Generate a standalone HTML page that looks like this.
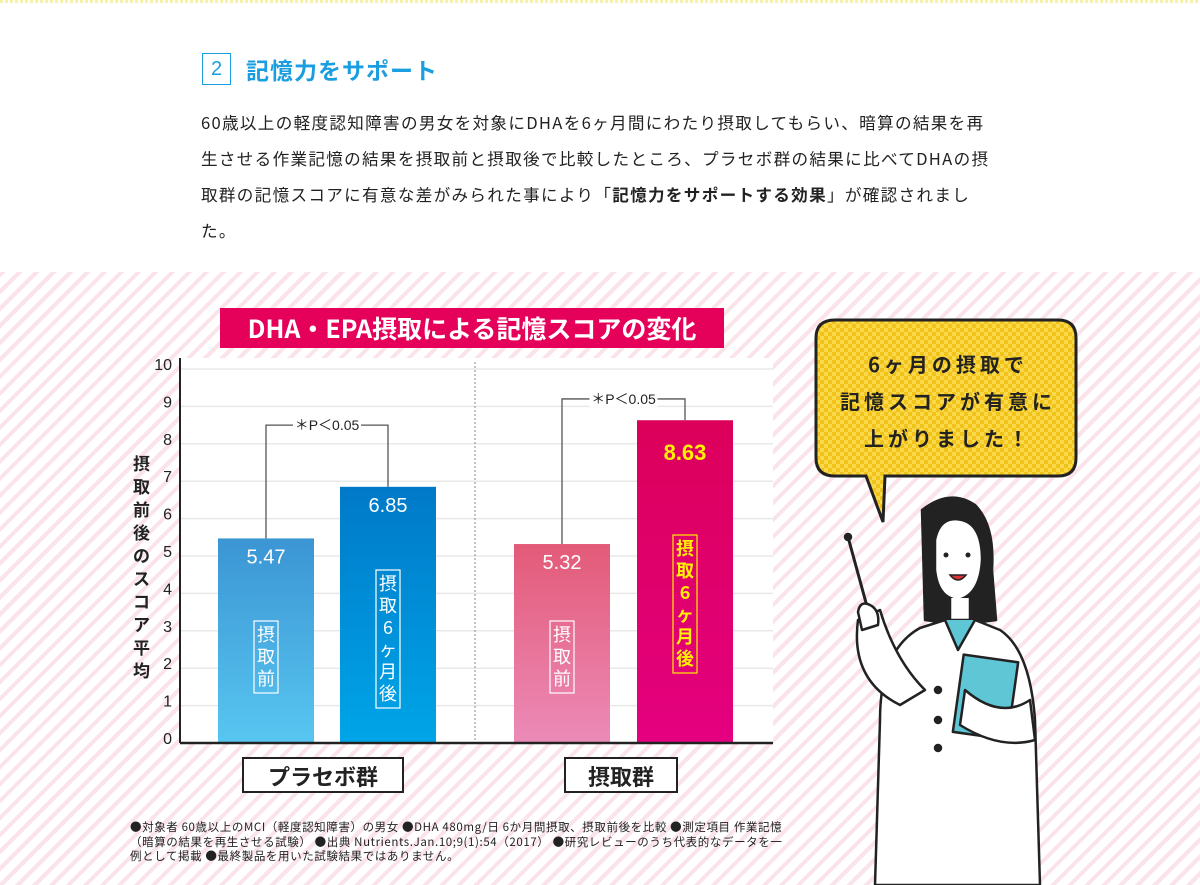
<!DOCTYPE html>
<html><head><meta charset="utf-8">
<style>
body{margin:0;width:1200px;height:885px;overflow:hidden;background:#fff;font-family:"Liberation Sans","Noto Sans CJK JP",sans-serif;position:relative}
.abs{position:absolute}
#bg{position:absolute;left:0;top:272px;width:1200px;height:613px;background:repeating-linear-gradient(135deg,#fbe3ea 0 4px,#fff 4px 12px)}
#topline{position:absolute;left:0;top:0;width:1200px;height:3px;background:repeating-linear-gradient(90deg,#f6f0a8 0 3px,#fff 3px 5px)}
.para{left:201px;width:880px;font-size:16.6px;letter-spacing:1.3px;line-height:36px;color:#222;font-family:"Noto Sans CJK JP",sans-serif}
</style></head><body>
<div id="topline"></div>
<div class="abs" style="left:202px;top:53px;width:27px;height:30px;border:1.5px solid #1a9ee0;color:#1a9ee0;font-size:20px;text-align:center;line-height:30px">2</div>
<div class="abs" style="left:246px;top:52px;font-size:23px;font-weight:bold;color:#1a9ee0;font-family:'Noto Sans CJK JP',sans-serif;letter-spacing:1px">記憶力をサポート</div>
<div class="abs para" style="top:104px">60歳以上の軽度認知障害の男女を対象にDHAを6ヶ月間にわたり摂取してもらい、暗算の結果を再<br>生させる作業記憶の結果を摂取前と摂取後で比較したところ、プラセボ群の結果に比べてDHAの摂<br>取群の記憶スコアに有意な差がみられた事により「<b>記憶力をサポートする効果</b>」が確認されまし<br>た。</div>
<div id="bg"></div>

<svg class="abs" style="left:0;top:0" width="1200" height="885" id="chart">
<rect x="220" y="308" width="504" height="40" fill="#e5005a"/>
<text x="472" y="338" text-anchor="middle" fill="#fff" font-size="25" font-weight="bold" font-family="'Noto Sans CJK JP',sans-serif">DHA・EPA摂取による記憶スコアの変化</text>
<rect x="180" y="358" width="593" height="385" fill="#fff"/>
<g id="grid"></g>
<defs>
<linearGradient id="g0" x1="0" y1="0" x2="0" y2="1"><stop offset="0" stop-color="#3b95d3"/><stop offset="1" stop-color="#58c6f1"/></linearGradient>
<linearGradient id="g1" x1="0" y1="0" x2="0" y2="1"><stop offset="0" stop-color="#0079c8"/><stop offset="1" stop-color="#00a5e8"/></linearGradient>
<linearGradient id="g2" x1="0" y1="0" x2="0" y2="1"><stop offset="0" stop-color="#e35a78"/><stop offset="1" stop-color="#ec8bb8"/></linearGradient>
<linearGradient id="g3" x1="0" y1="0" x2="0" y2="1"><stop offset="0" stop-color="#dc005a"/><stop offset="1" stop-color="#e4007f"/></linearGradient>
<pattern id="chk" width="8" height="8" patternUnits="userSpaceOnUse"><rect width="8" height="8" fill="#f9d949"/><rect width="4" height="4" fill="#f0c21a"/><rect x="4" y="4" width="4" height="4" fill="#f0c21a"/></pattern>
</defs>
<g id="bars"></g>
<line x1="475" y1="362" x2="475" y2="742" stroke="#888" stroke-dasharray="2,2"/>
<line x1="180" y1="358" x2="180" y2="743" stroke="#222" stroke-width="2"/>
<line x1="180" y1="743" x2="773" y2="743" stroke="#222" stroke-width="2.5"/>
<text font-size="17" font-weight="bold" fill="#222" font-family="'Noto Sans CJK JP',sans-serif">
<tspan x="133" y="470">摂</tspan><tspan x="133" y="493">取</tspan><tspan x="133" y="516">前</tspan><tspan x="133" y="539">後</tspan><tspan x="133" y="562">の</tspan><tspan x="133" y="585">ス</tspan><tspan x="133" y="608">コ</tspan><tspan x="133" y="631">ア</tspan><tspan x="133" y="654">平</tspan><tspan x="133" y="677">均</tspan></text>
<rect x="243" y="758" width="160" height="34" fill="#fff" stroke="#222" stroke-width="2"/>
<text x="323" y="785" text-anchor="middle" font-size="22" font-weight="bold" fill="#222" font-family="'Noto Sans CJK JP',sans-serif">プラセボ群</text>
<rect x="565" y="758" width="112" height="34" fill="#fff" stroke="#222" stroke-width="2"/>
<text x="621" y="785" text-anchor="middle" font-size="22" font-weight="bold" fill="#222" font-family="'Noto Sans CJK JP',sans-serif">摂取群</text>

<path d="M835,320 H1058 Q1076,320 1076,338 V458 Q1076,476 1058,476 H885 L883,522 L866,476 H835 Q816,476 816,458 V338 Q816,320 835,320 Z" fill="url(#chk)" stroke="#222" stroke-width="3"/>
<text text-anchor="middle" font-size="20" font-weight="bold" fill="#222" font-family="'Noto Sans CJK JP',sans-serif" letter-spacing="4"><tspan x="948" y="372">6ヶ月の摂取で</tspan><tspan x="948" y="409">記憶スコアが有意に</tspan><tspan x="948" y="446">上がりました！</tspan></text>

<g stroke="#222" stroke-width="2.5" stroke-linejoin="round">
<line x1="848" y1="537" x2="868" y2="610" stroke-width="3"/>
<circle cx="848" cy="537" r="3" fill="#222"/>
<path d="M922,510 Q950,488 975,505 Q995,525 992,570 L996,620 L960,625 L925,620 Z" fill="#222"/>
<path d="M935,540 Q940,515 962,520 Q982,525 982,560 Q980,595 958,600 Q938,598 935,570 Z" fill="#fff"/>
<path d="M950,598 L950,625 L970,625 L970,598" fill="#fff"/>
<path d="M880,720 Q880,650 920,628 L945,620 L975,620 L1000,630 Q1030,650 1035,720 L1040,885 L875,885 Z" fill="#fff"/>
<path d="M945,620 L958,650 L975,620" fill="#5ec6d4"/>
<path d="M858,620 Q850,680 900,705 L925,690 Q895,660 880,610 Z" fill="#fff"/>
<rect x="958" y="658" width="55" height="78" fill="#5ec6d4" transform="rotate(8 985 697)"/>
<path d="M965,690 Q1000,720 1030,700 L1035,740 Q1000,750 960,725 Z" fill="#fff"/>
<circle cx="938" cy="690" r="3" fill="#222"/><circle cx="938" cy="720" r="3" fill="#222"/><circle cx="938" cy="748" r="3" fill="#222"/>
<path d="M858,612 Q860,600 870,605 Q880,610 878,625 L862,630 Z" fill="#fff"/>
</g>
<g fill="#222"><circle cx="946" cy="555" r="2.5"/><circle cx="968" cy="555" r="2.5"/></g>
<path d="M950,575 Q958,585 966,575 Z" fill="#d33" stroke="#222" stroke-width="1.5"/>
</svg>

<div class="abs" style="left:130px;top:820px;width:700px;font-size:11.5px;letter-spacing:0.6px;line-height:14.5px;color:#222;font-family:'Noto Sans CJK JP',sans-serif;white-space:nowrap">●対象者 60歳以上のMCI（軽度認知障害）の男女 ●DHA 480mg/日 6か月間摂取、摂取前後を比較 ●測定項目 作業記憶<br>（暗算の結果を再生させる試験） ●出典 Nutrients.Jan.10;9(1):54（2017） ●研究レビューのうち代表的なデータを一<br>例として掲載 ●最終製品を用いた試験結果ではありません。</div>

<script>
const categories=["摂取前","摂取6ヶ月後","摂取前","摂取6ヶ月後"];
const values=[5.47,6.85,5.32,8.63];
const valueLabels=["5.47","6.85","5.32","8.63"];
const yTicks=[0,1,2,3,4,5,6,7,8,9,10];
const sigLabels=["＊P＜0.05","＊P＜0.05"];
const sigLevels=[8.5,9.2];
const NS="http://www.w3.org/2000/svg";
const y0=743,y10=369;
function y(v){return y0-(y0-y10)*v/10;}
const barX=[218,340,514,637],barW=96;
function mk(t,a,parent){const e=document.createElementNS(NS,t);for(const k in a)e.setAttribute(k,a[k]);parent.appendChild(e);return e;}
const grid=document.getElementById('grid'),bars=document.getElementById('bars');
yTicks.forEach(t=>{
  if(t>0){const l=mk('line',{x1:180,x2:773,y1:y(t),y2:y(t),stroke:'#e8e8e8','stroke-width':1.5},grid);
  
  }
  const tx=mk('text',{x:172,y:y(t)+1,'text-anchor':'end','font-size':16,fill:'#222'},grid);
  tx.textContent=t;
  
  
});
values.forEach((v,i)=>{
  const r=mk('rect',{x:barX[i],y:y(v),width:barW,height:y0-y(v),fill:'url(#g'+i+')'},bars);
  
  
  const hi=i===3;
  const t=mk('text',{x:barX[i]+barW/2,y:y(v)+(hi?40:25),'text-anchor':'middle','font-size':hi?22:20,'font-weight':hi?'bold':'normal',fill:hi?'#fff100':'#fff'},bars);
  t.textContent=valueLabels[i];
  
  
  const chars=categories[i].split('');
  const ch=22, boxH=chars.length*ch+6;
  const top=i===1?570:(i===3?535:(y0-50-boxH));
  const cx=barX[i]+barW/2;
  const col=hi?'#fff100':'#fff';
  const b=mk('rect',{x:cx-12,y:top,width:24,height:boxH,fill:'none',stroke:col,'stroke-width':1.2},bars);
  
  
  chars.forEach((c,j)=>{const tt=mk('text',{x:cx,y:top+ch*(j+1)-2,'text-anchor':'middle','font-size':18,'font-weight':hi?'bold':'normal',fill:col,'font-family':"'Noto Sans CJK JP',sans-serif"},bars);
    tt.textContent=c;
    
    });
});
[[0,1],[2,3]].forEach((p,k)=>{
  const a=p[0],b=p[1];
  const top=y(sigLevels[k]);
  const xa=barX[a]+barW/2,xb=barX[b]+barW/2;
  const pl=mk('polyline',{points:`${xa},${y(values[a])} ${xa},${top} ${xb},${top} ${xb},${y(values[b])}`,fill:'none',stroke:'#555','stroke-width':1.3},bars);
  
  
  const mx=(xa+xb)/2;
  mk('rect',{x:mx-34,y:top-8,width:68,height:16,fill:'#fff'},bars);
  const t=mk('text',{x:mx,y:top+5,'text-anchor':'middle','font-size':14,fill:'#222'},bars);
  t.textContent=sigLabels[k];
  
  
});
</script>
</body></html>
